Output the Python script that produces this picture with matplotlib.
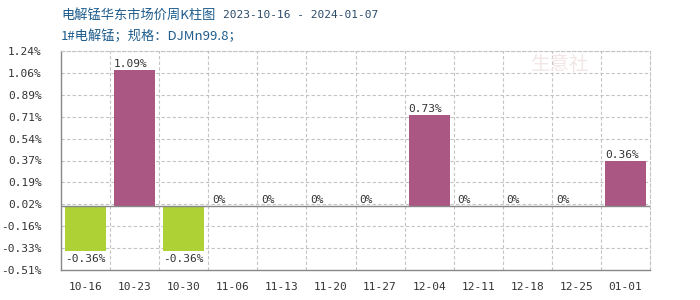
import matplotlib
matplotlib.use("Agg")
import matplotlib.pyplot as plt
import numpy as np

categories = ["10-16", "10-23", "10-30", "11-06", "11-13", "11-20", "11-27",
              "12-04", "12-11", "12-18", "12-25", "01-01"]
values = [-0.36, 1.09, -0.36, 0, 0, 0, 0, 0.73, 0, 0, 0, 0.36]
value_labels = ["-0.36%", "1.09%", "-0.36%", "0%", "0%", "0%", "0%",
                "0.73%", "0%", "0%", "0%", "0.36%"]
ytick_vals = [-0.51, -0.335, -0.16, 0.015, 0.19, 0.365, 0.54, 0.715, 0.89, 1.065, 1.24]
ytick_labels = ["-0.51%", "-0.33%", "-0.16%", "0.02%", "0.19%", "0.37%",
                "0.54%", "0.71%", "0.89%", "1.06%", "1.24%"]
title = "电解锰华东市场价周K柱图"
title_dates = "2023-10-16 - 2024-01-07"
subtitle = "1#电解锰；规格：DJMn99.8；"

pos_color = "#AB5783"
neg_color = "#AED136"
text_color = "#333333"
title_color = "#1E5C8C"
grid_color = "#C4C4C4"

plt.rcParams['font.family'] = ['Noto Sans CJK SC', 'DejaVu Sans']

fig = plt.figure(figsize=(7, 3), dpi=100)
ax = fig.add_axes([61/700, 30/300, 589/700, 219/300])

x = np.arange(len(categories))
width = 0.84
colors = [pos_color if v >= 0 else neg_color for v in values]
ax.bar(x, values, width=width, color=colors, zorder=3)

ax.set_xlim(-0.5, len(categories) - 0.5)
ax.set_ylim(ytick_vals[0], ytick_vals[-1])
ax.set_yticks(ytick_vals)
ax.set_yticklabels(ytick_labels, family='DejaVu Sans Mono', fontsize=8, color=text_color)
ax.set_xticks(x)
ax.set_xticklabels(categories, family='DejaVu Sans Mono', fontsize=8, color=text_color)
ax.tick_params(axis='both', length=0)
ax.tick_params(axis='x', pad=9)
ax.tick_params(axis='y', pad=14)

# grid
for yv in ytick_vals[1:]:
    ax.axhline(yv, color=grid_color, lw=0.8, ls=(0, (3, 2)), zorder=1)
for xb in np.arange(0.5, len(categories) - 0.5, 1.0):
    ax.axvline(xb, color=grid_color, lw=0.8, ls=(0, (3, 2)), zorder=1)
ax.axhline(0, color="#888888", lw=1.0, zorder=4)

for side in ["top", "right"]:
    ax.spines[side].set_linestyle((0, (3, 2)))
    ax.spines[side].set_color(grid_color)
    ax.spines[side].set_linewidth(0.8)
for side in ["left", "bottom"]:
    ax.spines[side].set_color("#888888")
    ax.spines[side].set_linewidth(1.0)

for xi, v, lab in zip(x, values, value_labels):
    left = xi - width / 2
    if v < 0:
        ax.text(left, v - 0.02, lab, ha='left', va='top', fontsize=8,
                family='DejaVu Sans Mono', color=text_color, zorder=5)
    else:
        ax.text(left, v + 0.01, lab, ha='left', va='bottom', fontsize=8,
                family='DejaVu Sans Mono', color=text_color, zorder=5)

t1 = fig.text(61/700, 1 - 15/300, title, ha='left', va='center', fontsize=9.5, color=title_color)
fig.canvas.draw()
bb = t1.get_window_extent(renderer=fig.canvas.get_renderer())
fig.text((bb.x1 + 8) / 700, 1 - 15/300, title_dates, ha='left', va='center', fontsize=8,
         family='DejaVu Sans Mono', color="#2B4A6A")
fig.text(61/700, 1 - 36/300, subtitle, ha='left', va='center', fontsize=9.5, color=title_color)

# faint watermark
fig.text(560/700, 1 - 65/300, "生意社", ha='center', va='center', fontsize=14,
         color="#F3E6E6", zorder=0)

fig.savefig("out.png", dpi=100)
